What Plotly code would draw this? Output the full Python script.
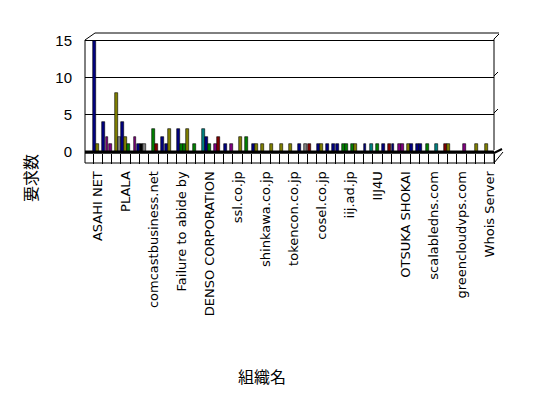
import plotly.graph_objects as go

# Organisation labels shown on the axis (every 9th bar is labelled)
org_labels = [
    "ASAHI NET", "PLALA", "comcastbusiness.net", "Failure to abide by",
    "DENSO CORPORATION", "ssl.co.jp", "shinkawa.co.jp", "tokencon.co.jp",
    "cosel.co.jp", "iij.ad.jp", "IIJ4U", "OTSUKA SHOKAI",
    "scalabledns.com", "greencloudvps.com", "Whois Server",
]

# Request counts, one row per labelled group of 9 bars
request_counts = [
    15, 1, 0, 4, 2, 1, 0, 8, 2,
    4, 2, 1, 0, 2, 1, 1, 1, 0,
    0, 3, 1, 0, 2, 1, 3, 0, 0,
    3, 1, 1, 3, 0, 1, 0, 0, 3,
    2, 1, 0, 1, 2, 0, 1, 0, 1,
    0, 0, 2, 0, 2, 0, 1, 1, 0,
    1, 0, 0, 1, 0, 0, 1, 0, 0,
    1, 0, 0, 1, 0, 1, 1, 0, 0,
    1, 1, 0, 1, 0, 1, 1, 0, 1,
    1, 0, 1, 1, 0, 0, 1, 0, 1,
    0, 1, 0, 1, 0, 1, 1, 0, 1,
    1, 0, 1, 1, 0, 1, 1, 0, 1,
    0, 0, 1, 0, 0, 1, 1, 0, 0,
    0, 0, 1, 0, 0, 0, 1, 0, 0,
    1, 0, 0,
]

# colour code per bar (same layout as request_counts)
bar_color_codes = (
    "NONNPPNOG"
    "NOgNPNKGN"
    "NgMNNNONN"
    "NggONgNNT"
    "NgNPMNNNP"
    "NNONgNNON"
    "ONNONNONN"
    "ONNNNGMNN"
    "NONNNNNNg"
    "gNgONNNNT"
    "NgNNNMNNP"
    "PNONNNNNg"
    "NNTNNMONN"
    "NNPNNNONN"
    "ONN"
)
palette = {
    "N": "#000080", "O": "#808000", "P": "#800080", "G": "#808080",
    "g": "#008000", "M": "#800000", "T": "#008080", "K": "#000000",
}

bar_index = list(range(len(request_counts)))
bar_colors = [palette[c] for c in bar_color_codes]
label_pos = [9 * i + 1 for i in range(len(org_labels))]

# the page body has an 8px margin, so the figure is laid out 8px smaller
OFF = 8
W, H = 548 - OFF, 398 - OFF
L, R, T, B = 85 - OFF, 494 - OFF, 33 - OFF, 153 - OFF


def px(x):
    """screen x (reference) -> paper x"""
    return (x - OFF - L) / (R - L)


def py(y):
    """screen y (reference) -> paper y"""
    return (B - (y - OFF)) / (B - T)


fig = go.Figure()
fig.add_trace(go.Bar(
    x=bar_index, y=request_counts,
    marker=dict(color=bar_colors, line=dict(color="black", width=0.6)),
    width=0.95, showlegend=False,
))

line = dict(color="black", width=1)
shapes = [
    # floor front edge (black band) and floor front face
    dict(type="rect", xref="paper", yref="paper", x0=0, x1=1,
         y0=py(153.5), y1=py(150.5), fillcolor="black", line=dict(width=0), layer="above"),
    dict(type="rect", xref="paper", yref="paper", x0=0, x1=1,
         y0=py(163), y1=py(153), line=line),
    dict(type="line", xref="paper", yref="paper", x0=1, x1=px(503),
         y0=py(163), y1=py(152), line=line),
    dict(type="line", xref="paper", yref="paper", x0=1, x1=px(502),
         y0=py(153), y1=py(149), line=dict(color="black", width=2)),
    # walls
    dict(type="line", xref="paper", yref="paper", x0=0, x1=0,
         y0=py(153), y1=py(40), line=line),
    dict(type="line", xref="paper", yref="paper", x0=0, x1=px(95),
         y0=py(40), y1=py(33), line=line),
    dict(type="line", xref="paper", yref="paper", x0=px(95), x1=px(499),
         y0=py(33), y1=py(33), line=line),
    dict(type="line", xref="paper", yref="paper", x0=1, x1=1,
         y0=py(150), y1=py(39), line=line),
    dict(type="line", xref="paper", yref="paper", x0=1, x1=px(499),
         y0=py(39), y1=py(34), line=line),
    dict(type="line", xref="paper", yref="paper", x0=1, x1=px(498),
         y0=py(76), y1=py(72), line=line),
    dict(type="line", xref="paper", yref="paper", x0=1, x1=px(498),
         y0=py(113), y1=py(109), line=line),
]

fig.update_layout(
    width=W, height=H,
    margin=dict(l=L, r=W - R, t=T, b=H - B, autoexpand=False),
    paper_bgcolor="white", plot_bgcolor="white",
    font=dict(family="Liberation Sans, Arial, sans-serif", color="black"),
    bargap=0,
    shapes=shapes,
    xaxis=dict(
        range=[-3.08, 128.5],
        tickmode="array", tickvals=label_pos, ticktext=org_labels,
        tickangle=-90, tickfont=dict(size=13, family="DejaVu Sans"),
        ticks="outside", ticklen=12, tickcolor="rgba(0,0,0,0)",
        minor=dict(ticks="outside", ticklen=10, tickcolor="black", tickwidth=1,
                   tick0=-0.5, dtick=3, showgrid=False),
        showgrid=False, zeroline=False, showline=False, fixedrange=True,
        automargin=False,
    ),
    yaxis=dict(
        range=[-0.2, 16.08],
        tickmode="array", tickvals=[0, 5, 10, 15],
        tickfont=dict(size=15, family="Liberation Sans, Arial"),
        ticks="outside", ticklen=9, tickcolor="rgba(0,0,0,0)",
        showgrid=True, gridcolor="black", gridwidth=1,
        zeroline=False, showline=False, fixedrange=True,
        automargin=False,
    ),
    annotations=[
        dict(text="要求数", xref="paper", yref="paper", x=px(30), y=py(178),
             textangle=-90, showarrow=False, xanchor="center", yanchor="middle",
             font=dict(size=16, family="Noto Sans CJK JP")),
        dict(text="組織名", xref="paper", yref="paper", x=px(262), y=py(376),
             showarrow=False, xanchor="center", yanchor="middle",
             font=dict(size=16, family="Noto Sans CJK JP")),
    ],
)

fig.write_html("out.html")
